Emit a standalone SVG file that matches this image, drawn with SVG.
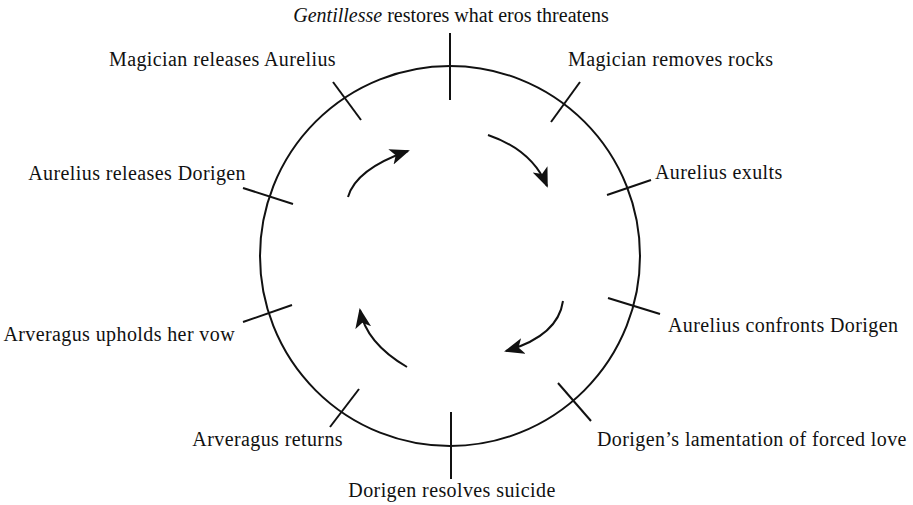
<svg xmlns="http://www.w3.org/2000/svg" width="913" height="505" viewBox="0 0 913 505">
<style>
.lbl{font-family:"Liberation Serif","Times New Roman",serif;font-size:20px;fill:#111;letter-spacing:0.4px}
.top{letter-spacing:0}
.tick{stroke:#111;stroke-width:2;fill:none}
.arc{stroke:#111;stroke-width:2;fill:none}
</style>
<defs>
<marker id="ah" markerUnits="userSpaceOnUse" markerWidth="22" markerHeight="18" refX="18" refY="8" orient="auto">
<path d="M0,0 L20,8 L0,16 L5,8 Z" fill="#111"/>
</marker>
</defs>
<rect width="913" height="505" fill="#fff"/>
<g id="cycle">
<circle cx="450" cy="256" r="190" fill="none" stroke="#111" stroke-width="2"/>
</g>
<g id="ticks">
<line class="tick" x1="450" y1="33" x2="450" y2="100"/>
<line class="tick" x1="580" y1="82" x2="551" y2="122"/>
<line class="tick" x1="651" y1="180" x2="607" y2="195"/>
<line class="tick" x1="660" y1="314" x2="608" y2="298"/>
<line class="tick" x1="591" y1="421" x2="558" y2="383"/>
<line class="tick" x1="451" y1="412" x2="451" y2="479"/>
<line class="tick" x1="330" y1="427" x2="359" y2="389"/>
<line class="tick" x1="243" y1="322" x2="292" y2="305"/>
<line class="tick" x1="243" y1="188" x2="293" y2="204"/>
<line class="tick" x1="333" y1="82" x2="361" y2="120"/>
</g>
<g id="connectors">
<path class="arc" d="M348,197 Q356,169 408,151" marker-end="url(#ah)"/>
<path class="arc" d="M488,135 Q532,150 547,186" marker-end="url(#ah)"/>
<path class="arc" d="M563,301 Q558,336 506,351" marker-end="url(#ah)"/>
<path class="arc" d="M407,367 Q366,343 360,310" marker-end="url(#ah)"/>
</g>
<g id="n-top"><text class="lbl top" x="451" y="22" text-anchor="middle"><tspan font-style="italic">Gentillesse</tspan> restores what eros threatens</text></g>
<g id="n-magician-removes"><text class="lbl" x="568" y="66">Magician removes rocks</text></g>
<g id="n-aurelius-exults"><text class="lbl" x="655" y="179">Aurelius exults</text></g>
<g id="n-aurelius-confronts"><text class="lbl" x="668" y="332">Aurelius confronts Dorigen</text></g>
<g id="n-lamentation"><text class="lbl" x="597" y="446">Dorigen’s lamentation of forced love</text></g>
<g id="n-suicide"><text class="lbl" x="452" y="497" text-anchor="middle">Dorigen resolves suicide</text></g>
<g id="n-arveragus-returns"><text class="lbl" x="343" y="446" text-anchor="end">Arveragus returns</text></g>
<g id="n-upholds"><text class="lbl" x="235" y="341" text-anchor="end">Arveragus upholds her vow</text></g>
<g id="n-releases-dorigen"><text class="lbl" x="246" y="180" text-anchor="end">Aurelius releases Dorigen</text></g>
<g id="n-magician-releases"><text class="lbl" x="336" y="66" text-anchor="end">Magician releases Aurelius</text></g>
</svg>
